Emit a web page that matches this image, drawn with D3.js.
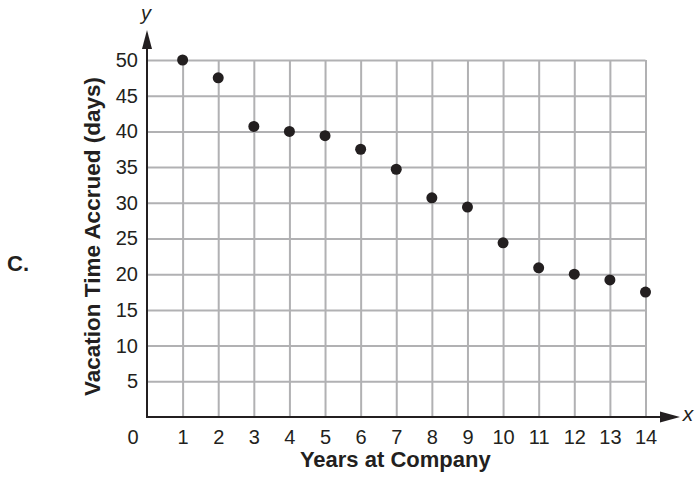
<!DOCTYPE html>
<html>
<head>
<meta charset="utf-8">
<script src="https://cdn.jsdelivr.net/npm/d3@7"></script>
<style>
    body { margin: 0; background: #fff; }
    text { font-family: "Liberation Sans", Arial, sans-serif; fill: #231f20; }
</style>
</head>
<body>
<div id="chart"></div>
<script>
// data
var years = [1, 2, 3, 4, 5, 6, 7, 8, 9, 10, 11, 12, 13, 14];
var vacation_days = [50, 47.5, 40.7, 40, 39.4, 37.5, 34.7, 30.7, 29.4, 24.4, 20.9, 20, 19.2, 17.5];
var x_ticks = [1, 2, 3, 4, 5, 6, 7, 8, 9, 10, 11, 12, 13, 14];
var y_ticks = [5, 10, 15, 20, 25, 30, 35, 40, 45, 50];

function change_data_type(xs, ys){
    var points = [];
    for (var i = 0; i < xs.length; i ++){
        points.push({'year': xs[i], 'days': ys[i]});
    }
    return points;
}

function draw_scatter(data){
    var width = 696,
        height = 481;

    var x = d3.scaleLinear().domain([0, 14]).range([147, 645.5]);
    var y = d3.scaleLinear().domain([0, 50]).range([417, 60]);

    var svg = d3.select("#chart").append("svg")
        .attr("width", width)
        .attr("height", height);

    var grid_color = "#b1b1b3";

    // grid
    svg.append("g")
        .attr("transform", "translate(0," + y(0) + ")")
        .call(d3.axisBottom(x).tickValues(x_ticks).tickSize(-(y(0) - y(50))).tickFormat(""))
        .call(function(g){ g.select(".domain").remove(); })
        .selectAll("line")
        .attr("stroke", grid_color)
        .attr("stroke-width", 2);

    svg.append("g")
        .attr("transform", "translate(" + x(0) + ",0)")
        .call(d3.axisLeft(y).tickValues(y_ticks).tickSize(-(x(14) - x(0))).tickFormat(""))
        .call(function(g){ g.select(".domain").remove(); })
        .selectAll("line")
        .attr("stroke", grid_color)
        .attr("stroke-width", 2);

    // tick labels
    var x_lab = svg.append("g")
        .attr("transform", "translate(0," + y(0) + ")")
        .call(d3.axisBottom(x).tickValues(x_ticks).tickSize(0).tickPadding(13));
    x_lab.select(".domain").remove();
    x_lab.selectAll("text")
        .style("font-size", "20px")
        .style("font-family", "'Liberation Sans', Arial, sans-serif")
        .attr("fill", "#231f20");

    var y_lab = svg.append("g")
        .attr("transform", "translate(" + x(0) + ",0)")
        .call(d3.axisLeft(y).tickValues(y_ticks).tickSize(0).tickPadding(9));
    y_lab.select(".domain").remove();
    y_lab.selectAll("text")
        .style("font-size", "20px")
        .style("font-family", "'Liberation Sans', Arial, sans-serif")
        .attr("fill", "#231f20");

    svg.append("text")
        .attr("x", x(0) - 14)
        .attr("y", 444)
        .style("text-anchor", "middle")
        .style("font-size", "20px")
        .text("0");

    // axes with arrows
    svg.append("line")
        .attr("x1", x(0)).attr("y1", y(0))
        .attr("x2", 664).attr("y2", y(0))
        .attr("stroke", "#231f20").attr("stroke-width", 2);
    svg.append("path")
        .attr("d", "M660," + (y(0) - 5.5) + "L680," + y(0) + "L660," + (y(0) + 5.5) + "Z")
        .attr("fill", "#231f20");

    svg.append("line")
        .attr("x1", x(0)).attr("y1", y(0) + 1)
        .attr("x2", x(0)).attr("y2", 46)
        .attr("stroke", "#231f20").attr("stroke-width", 2);
    svg.append("path")
        .attr("d", "M" + (x(0) - 5) + ",49L" + x(0) + ",30L" + (x(0) + 5) + ",49Z")
        .attr("fill", "#231f20");

    svg.append("text")
        .attr("x", 688)
        .attr("y", 421)
        .style("text-anchor", "middle")
        .style("font-size", "21px")
        .style("font-style", "italic")
        .text("x");

    svg.append("text")
        .attr("x", 146)
        .attr("y", 20)
        .style("text-anchor", "middle")
        .style("font-size", "20px")
        .style("font-style", "italic")
        .text("y");

    // titles
    svg.append("text")
        .attr("x", (x(0) + x(14)) / 2 - 1)
        .attr("y", 467)
        .style("text-anchor", "middle")
        .style("font-size", "22px")
        .style("font-weight", "bold")
        .text("Years at Company");

    svg.append("text")
        .attr("transform", "translate(100,236.5) rotate(-90)")
        .style("text-anchor", "middle")
        .style("font-size", "22.5px")
        .style("font-weight", "bold")
        .text("Vacation Time Accrued (days)");

    svg.append("text")
        .attr("x", 7)
        .attr("y", 271)
        .style("font-size", "22px")
        .style("font-weight", "bold")
        .text("C.");

    // points
    svg.selectAll(".dot")
        .data(data)
        .enter().append("circle")
        .attr("class", "dot")
        .attr("cx", function(d){ return x(d.year); })
        .attr("cy", function(d){ return y(d.days); })
        .attr("r", 5.5)
        .attr("fill", "#231f20");
}

draw_scatter(change_data_type(years, vacation_days));
</script>
</body>
</html>
